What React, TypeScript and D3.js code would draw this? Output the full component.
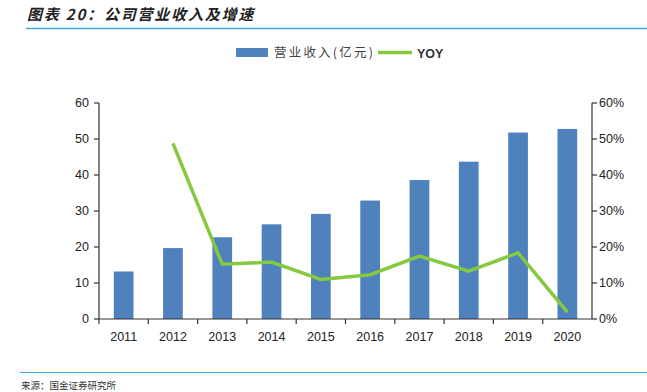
import React from 'react'
import * as d3 from 'd3'

const years = ['2011', '2012', '2013', '2014', '2015', '2016', '2017', '2018', '2019', '2020']
const revenue = [13.2, 19.7, 22.7, 26.3, 29.2, 32.9, 38.6, 43.7, 51.8, 52.8]
const yoy = [null, 48.8, 15.2, 15.8, 11.0, 12.3, 17.5, 13.3, 18.4, 1.9]
const leftTicks = [0, 10, 20, 30, 40, 50, 60]
const rightTicks = [0, 10, 20, 30, 40, 50, 60]

const W = 647
const H = 392
const margin = {left: 99, right: 55, top: 103, bottom: 73}
const axisColor = '#333'
const barColor = '#4f81bd'
const lineColor = '#84c93f'
const rule = '#3fa9e0'
const font = '"Liberation Sans", Arial, sans-serif'
const cjk = '"Noto Sans CJK SC", sans-serif'

const App = () => {
  const x0 = margin.left
  const x1 = W - margin.right
  const yBottom = H - margin.bottom

  const x = d3.scaleBand().domain(years).range([x0, x1]).paddingInner(0).paddingOuter(0)
  const yL = d3.scaleLinear().domain([0, 60]).range([yBottom, margin.top])
  const yR = d3.scaleLinear().domain([0, 60]).range([yBottom, margin.top])
  const barW = x.bandwidth() * 0.4

  const linePts = years.map((yr, i) => ({yr, v: yoy[i]})).filter(d => d.v !== null)
  const line = d3.line<{yr: string, v: number | null}>()
    .x(d => (x(d.yr) as number) + x.bandwidth() / 2)
    .y(d => yR(d.v as number))

  const bars = years.map((yr, i) => {
    const bx = (x(yr) as number) + (x.bandwidth() - barW) / 2
    return <rect key={yr} x={bx} y={yL(revenue[i])} width={barW} height={yBottom - yL(revenue[i])} fill={barColor}/>
  })

  return (
    <svg width={W} height={H} style={{position: 'absolute', left: 0, top: 0}}>
      <rect width={W} height={H} fill="white"/>
      {/* title */}
      <text x={27} y={20} fontFamily={cjk} fontSize={15} fontWeight="bold" fontStyle="italic" letterSpacing={1.8} fill="#222">图表 20：公司营业收入及增速</text>
      <line x1={26} x2={W} y1={28.5} y2={28.5} stroke={rule} strokeWidth={1.5}/>

      {/* legend */}
      <rect x={236} y={48} width={32} height={9} fill={barColor}/>
      <text x={274} y={57} fontFamily={cjk} fontSize={12.5} letterSpacing={2.2} fill="#444">营业收入(亿元)</text>
      <line x1={378} x2={412} y1={52.5} y2={52.5} stroke={lineColor} strokeWidth={3.5}/>
      <text x={417} y={57.5} fontFamily={font} fontSize={12.5} fontWeight="bold" fill="#333">YOY</text>

      <g>{bars}</g>
      <path d={line(linePts) as string} fill="none" stroke={lineColor} strokeWidth={3.5} strokeLinejoin="miter"/>

      {/* left axis */}
      <line x1={x0} x2={x0} y1={margin.top} y2={yBottom} stroke={axisColor} strokeWidth={1.2}/>
      {leftTicks.map(t => (
        <g key={'l' + t}>
          <line x1={x0 - 5} x2={x0} y1={yL(t)} y2={yL(t)} stroke={axisColor} strokeWidth={1.2}/>
          <text x={x0 - 10} y={yL(t)} dy="0.35em" textAnchor="end" fontFamily={font} fontSize={12.5} fill="#222">{t}</text>
        </g>
      ))}

      {/* right axis */}
      <line x1={x1} x2={x1} y1={margin.top} y2={yBottom} stroke={axisColor} strokeWidth={1.2}/>
      {rightTicks.map(t => (
        <g key={'r' + t}>
          <line x1={x1} x2={x1 + 5} y1={yR(t)} y2={yR(t)} stroke={axisColor} strokeWidth={1.2}/>
          <text x={x1 + 7} y={yR(t)} dy="0.35em" textAnchor="start" fontFamily={font} fontSize={12.5} fill="#222">{t}%</text>
        </g>
      ))}

      {/* x axis */}
      <line x1={x0} x2={x1} y1={yBottom} y2={yBottom} stroke={axisColor} strokeWidth={1.2}/>
      {years.map(yr => (
        <g key={'x' + yr}>
          <line x1={x(yr) as number} x2={x(yr) as number} y1={yBottom} y2={yBottom + 5} stroke={axisColor} strokeWidth={1.2}/>
          <text x={(x(yr) as number) + x.bandwidth() / 2} y={yBottom + 18} dy="0.35em" textAnchor="middle" fontFamily={font} fontSize={12.5} fill="#222">{yr}</text>
        </g>
      ))}

      {/* source */}
      <line x1={20} x2={W} y1={372.5} y2={372.5} stroke={rule} strokeWidth={1.2}/>
      <text x={21} y={389} fontFamily={cjk} fontSize={9.5} fill="#333">来源：国金证券研究所</text>
    </svg>
  )
}

export default App
